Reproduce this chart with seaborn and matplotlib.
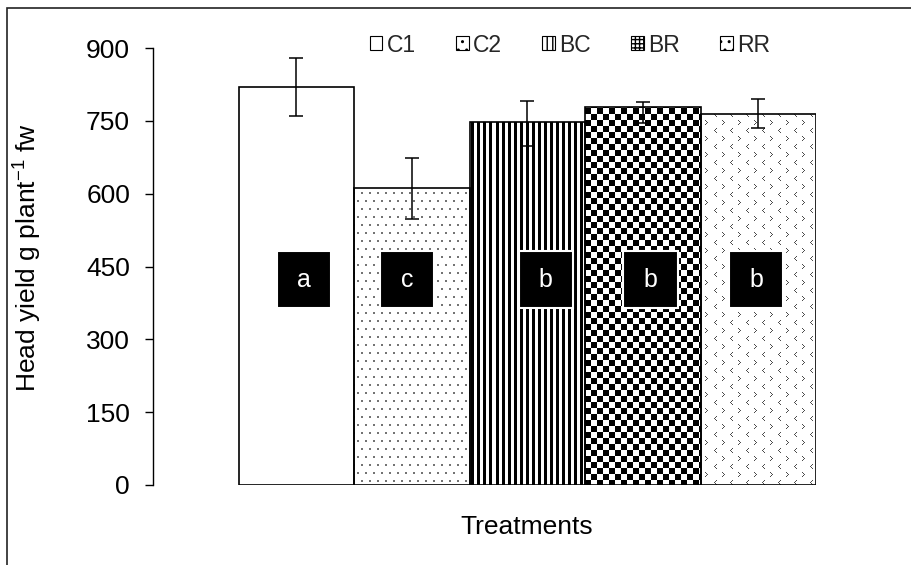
import numpy as np
import pandas as pd
import matplotlib
matplotlib.use("Agg")
import matplotlib.pyplot as plt
from matplotlib.patches import Rectangle, Patch
import seaborn as sns

# ---------------- data ----------------
treatments = ["C1", "C2", "BC", "BR", "RR"]
head_yield = [819, 611, 747, 778, 764]
err_lower = [59, 63, 49, 32, 28]
err_upper = [60, 62, 44, 10, 31]
letters = ["a", "c", "b", "b", "b"]
y_ticks = [0, 150, 300, 450, 600, 750, 900]
y_label = "Head yield g plant$^{-1}$ fw"
x_label = "Treatments"

# ---------------- layout / style ----------------
FIG_W, FIG_H, DPI = 9.12, 5.65, 100
AX_RECT = [153 / 912, 80 / 565, 663 / 912, 437 / 565]
XLIM = (-1.242, 4.5)
YLIM = (0, 900)
LETTER_DX = [0.068, -0.04, 0.16, 0.066, -0.02]
BOX_W, BOX_H, BOX_Y = 0.47, 117, 423
FS = 19

sns.set_style("ticks")
plt.rcParams["font.family"] = ["Liberation Sans", "DejaVu Sans"]
plt.rcParams["mathtext.fontset"] = "custom"
plt.rcParams["mathtext.rm"] = "Liberation Sans"
plt.rcParams["mathtext.it"] = "Liberation Sans:italic"
plt.rcParams["hatch.linewidth"] = 1.0

fig = plt.figure(figsize=(FIG_W, FIG_H), dpi=DPI)
ax = fig.add_axes(AX_RECT)

df = pd.DataFrame({"Treatment": treatments, "Yield": head_yield})
sns.barplot(data=df, x="Treatment", y="Yield", order=treatments, color="white",
            edgecolor="black", linewidth=1.2, width=1.0, errorbar=None,
            saturation=1, ax=ax)
bars = list(ax.patches)
for b in bars:
    b.set_facecolor("none")
    b.set_zorder(2)

# ---------------- fill textures (pixel patterns) ----------------
W = int(round(AX_RECT[2] * FIG_W * DPI))
H = int(round(AX_RECT[3] * FIG_H * DPI))
yy, xx = np.mgrid[0:H, 0:W]

tex_white = np.ones((H, W))

tex_dots = np.ones((H, W))
row = (yy // 8) % 2
tex_dots[((yy % 8) < 2) & (((xx + 4 * row) % 8) < 2)] = 0.45

tex_stripes = np.where((xx % 6) < 3, 0.0, 1.0)

tex_checker = np.where(((xx // 6) + (yy // 6)) % 2 == 0, 0.0, 1.0)

tex_chev = np.ones((H, W))
lt_glyph = np.array([[0, 0, 1], [0, 1, 0], [1, 0, 0], [0, 1, 0], [0, 0, 1]])
gt_glyph = lt_glyph[:, ::-1]
for r0 in range(0, H, 8):
    kind = (r0 // 8) % 2
    glyph = lt_glyph if kind == 0 else gt_glyph
    c_start = 0 if kind == 0 else 8
    for c0 in range(c_start, W, 16):
        sub = tex_chev[r0:r0 + 5, c0:c0 + 3]
        g = glyph[:sub.shape[0], :sub.shape[1]]
        sub[g == 1] = 0.3

textures = [tex_white, tex_dots, tex_stripes, tex_checker, tex_chev]
for b, tex in zip(bars, textures):
    im = ax.imshow(tex, cmap="gray", vmin=0, vmax=1, interpolation="nearest",
                   extent=(XLIM[0], XLIM[1], YLIM[0], YLIM[1]), aspect="auto",
                   origin="upper", zorder=1)
    im.set_clip_path(b)

ax.set_xlim(*XLIM)
ax.set_ylim(*YLIM)

# ---------------- error bars ----------------
ax.errorbar(np.arange(len(treatments)), head_yield, yerr=[err_lower, err_upper],
            fmt="none", ecolor="black", elinewidth=1.1, capsize=4.7,
            capthick=1.1, zorder=3)

# ---------------- letters ----------------
for i, (lt, dx) in enumerate(zip(letters, LETTER_DX)):
    ax.add_patch(Rectangle((i + dx - BOX_W / 2, BOX_Y - BOX_H / 2), BOX_W, BOX_H,
                           facecolor="black", edgecolor="white", linewidth=1.5,
                           zorder=4))
    ax.text(i + dx, BOX_Y, lt, color="white", ha="center", va="center",
            fontsize=18, zorder=5)

# ---------------- axes ----------------
ax.set_yticks(y_ticks)
ax.set_xticks([])
ax.tick_params(axis="y", direction="out", length=5.5, width=1, pad=11,
               labelsize=FS, colors="black", left=True)
ax.set_xlabel(x_label, fontsize=FS, color="black")
ax.xaxis.set_label_coords(0.564, -0.068)
ax.set_ylabel(y_label, fontsize=FS, color="black")
ax.yaxis.set_label_coords(-0.165, 0.52)
sns.despine(ax=ax, top=True, right=True, bottom=True)
ax.spines["left"].set_color("black")
ax.spines["left"].set_linewidth(1.0)
ax.set_facecolor("white")

# ---------------- legend ----------------
hatches = [None, "..", "|||", "++++", ".."]
handles = [Patch(facecolor="white", edgecolor="black", hatch=h, linewidth=0.8)
           for h in hatches]
fig.legend(handles, treatments, loc="center", ncol=5, frameon=False,
           bbox_to_anchor=(570 / 912, 1 - 45 / 565), fontsize=16.5,
           handlelength=0.55, handleheight=0.55, handletextpad=0.2,
           columnspacing=1.75)

# ---------------- outer frame ----------------
fig.add_artist(Rectangle((7.5 / 912, -0.1), 1.2, (565 - 8) / 565 + 0.1,
                         transform=fig.transFigure, fill=False,
                         edgecolor="#222222", linewidth=1.2))

fig.savefig("out.png", dpi=DPI)
